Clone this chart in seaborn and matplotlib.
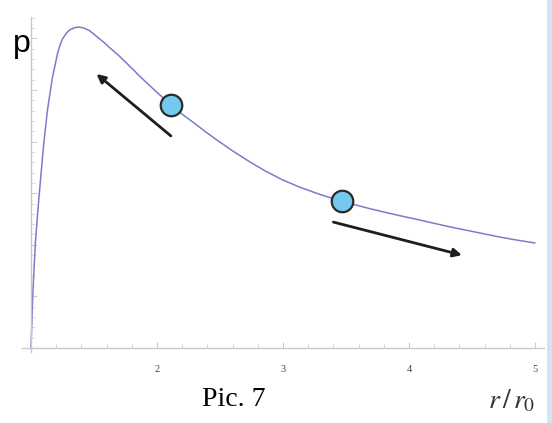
import matplotlib
matplotlib.use("Agg")
import matplotlib.pyplot as plt
from matplotlib.patches import Rectangle
from matplotlib.ticker import MultipleLocator, NullFormatter
import pandas as pd
import seaborn as sns

# Pressure curve p(r / r0)
r_vals = [1.000, 1.015, 1.035, 1.055, 1.075, 1.10, 1.13, 1.17, 1.21, 1.23,
          1.25, 1.28, 1.31, 1.35, 1.385, 1.42, 1.465, 1.50, 1.54, 1.58,
          1.62, 1.66, 1.70, 1.75, 1.805, 1.87, 1.94, 2.02, 2.115, 2.20,
          2.30, 2.38, 2.47, 2.60, 2.735, 2.86, 2.995, 3.13, 3.265, 3.365,
          3.465, 3.58, 3.69, 3.81, 3.925, 4.05, 4.165, 4.32, 4.48, 4.60,
          4.72, 4.86, 5.00]
p_vals = [0.00, 1.085, 2.05, 2.68, 3.25, 3.93, 4.60, 5.24, 5.70, 5.87,
          5.99, 6.10, 6.17, 6.21, 6.22, 6.20, 6.15, 6.08, 6.00, 5.92,
          5.83, 5.745, 5.66, 5.54, 5.41, 5.25, 5.09, 4.91, 4.71, 4.53,
          4.35, 4.20, 4.04, 3.82, 3.61, 3.43, 3.26, 3.12, 3.00, 2.92,
          2.85, 2.77, 2.70, 2.63, 2.565, 2.50, 2.435, 2.35, 2.27, 2.21,
          2.15, 2.09, 2.035]

# Two states on the curve
state_r = [2.115, 3.465]
state_p = [4.71, 2.85]

# Direction arrows (tail -> head)
arrow_tail_r = [2.11, 3.40]
arrow_tail_p = [4.11, 2.44]
arrow_head_r = [1.52, 4.42]
arrow_head_p = [5.31, 1.80]

x_tick_vals = [2, 3, 4, 5]
x_tick_labels = ["2", "3", "4", "5"]

sns.set_style("white")
plt.rcParams["font.family"] = ["DejaVu Sans"]

W, H = 552, 423
fig = plt.figure(figsize=(W / 100, H / 100), dpi=100)
ax = fig.add_axes([22 / W, (H - 352) / H, (544 - 22) / W, (352 - 17) / H])

curve = pd.DataFrame({"r": r_vals, "p": p_vals})
sns.lineplot(data=curve, x="r", y="p", ax=ax, color="#8079cc", linewidth=1.1,
             sort=False, estimator=None)

states = pd.DataFrame({"r": state_r, "p": state_p})
sns.scatterplot(data=states, x="r", y="p", ax=ax, s=240, color="#74c9ef",
                edgecolor="#2b2b2b", linewidth=1.6, zorder=5)

for tr, tp, hr, hp in zip(arrow_tail_r, arrow_tail_p, arrow_head_r, arrow_head_p):
    ax.annotate("", xy=(hr, hp), xytext=(tr, tp),
                arrowprops=dict(arrowstyle="-|>,head_length=0.5,head_width=0.25",
                                color="#1e1e1e", lw=2.0, shrinkA=0, shrinkB=0))

x0 = 1 - 9 / 126
ax.set_xlim(x0, x0 + (544 - 22) / 126)
ax.set_ylim(-4 / 51.6, (352 - 17) / 51.6 - 4 / 51.6)

for side in ("top", "right"):
    ax.spines[side].set_visible(False)
ax.spines["left"].set_position(("data", 1.0))
ax.spines["bottom"].set_position(("data", 0.0))
for side in ("left", "bottom"):
    ax.spines[side].set_color("#c9c9c9")
    ax.spines[side].set_linewidth(1.0)

ax.set_xticks(x_tick_vals)
ax.set_xticklabels(x_tick_labels, fontsize=7.5, color="#444444",
                   fontfamily="Liberation Serif")
ax.xaxis.set_minor_locator(MultipleLocator(0.2))
ax.yaxis.set_major_locator(MultipleLocator(1))
ax.yaxis.set_minor_locator(MultipleLocator(0.2))
ax.yaxis.set_major_formatter(NullFormatter())
ax.tick_params(axis="x", which="major", direction="in", length=4, color="#c9c9c9",
               pad=12, bottom=True)
ax.tick_params(axis="x", which="minor", direction="in", length=3, color="#c9c9c9",
               bottom=True)
ax.tick_params(axis="y", which="major", direction="in", length=4, color="#d0d0d0",
               left=True)
ax.tick_params(axis="y", which="minor", direction="in", length=3, color="#d8d8d8",
               left=True)
ax.set_xlabel("")
ax.set_ylabel("")

fig.text(22 / W, 1 - 44 / H, "p", fontsize=23, color="black", ha="center",
         va="center", fontfamily="Liberation Sans")
fig.text(234 / W, 1 - 399 / H, "Pic. 7", fontsize=20, color="black", ha="center",
         va="center", fontfamily="Liberation Serif")
fig.text(512 / W, 1 - 400 / H, r"$r\,/\,r_0$", fontsize=20, color="#333333",
         ha="center", va="center", math_fontfamily="stix")

fig.patches.append(Rectangle((547 / W, 0), 5 / W, 1, transform=fig.transFigure,
                             facecolor="#cfe6f6", edgecolor="none"))

fig.savefig("out.png", dpi=100)
